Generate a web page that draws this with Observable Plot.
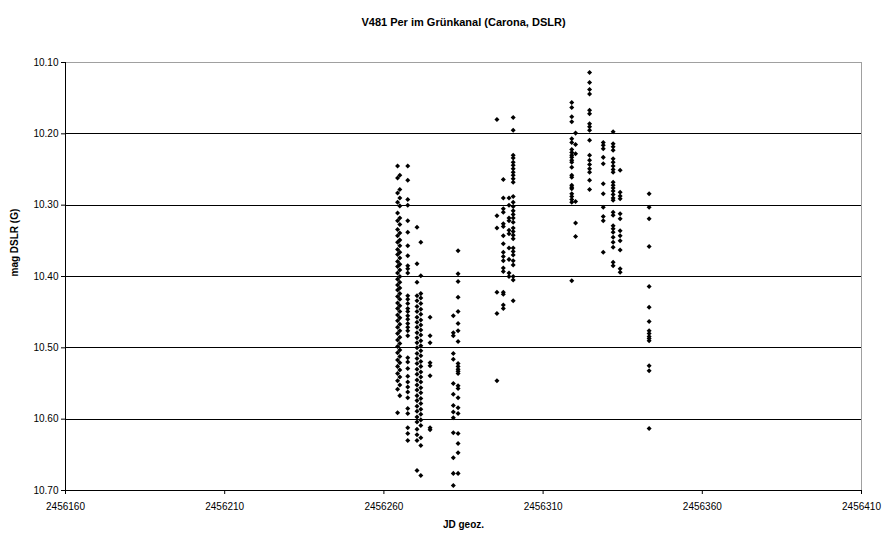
<!DOCTYPE html>
<html>
<head>
<meta charset="utf-8">
<script src="https://cdn.jsdelivr.net/npm/d3@7"></script>
<script src="https://cdn.jsdelivr.net/npm/@observablehq/plot@0.6"></script>
<style>
  html, body { margin: 0; padding: 0; background: #fff; }
</style>
</head>
<body>
<div id="chart"></div>
<script>
const titleText = "V481 Per im Grünkanal (Carona, DSLR)";
const xLabel = "JD geoz.";
const yLabel = "mag DSLR (G)";
const xTicks = [2456160, 2456210, 2456260, 2456310, 2456360, 2456410];
const yTicks = [10.10, 10.20, 10.30, 10.40, 10.50, 10.60, 10.70];

// Observation nights (JD geoz.) and the magnitudes measured in each
const nightJD = [
  2456264.3, 2456265.0, 2456267.5, 2456270.4, 2456271.6, 2456274.5,
  2456281.8, 2456283.3, 2456295.5, 2456297.5, 2456299.3,
  2456300.6, 2456319.0, 2456320.2, 2456324.6, 2456328.9,
  2456332.0, 2456334.2, 2456343.3
];
const magA1 = [10.245,10.262,10.283,10.296,10.311,10.322,10.334,10.343,10.352,10.362,10.369,10.379,10.386,10.395,10.404,10.412,10.419,10.428,10.437,10.445,10.454,10.462,10.471,10.480,10.489,10.498,10.507,10.517,10.526,10.536,10.546,10.558,10.591];
const magA2 = [10.258,10.278,10.290,10.301,10.318,10.327,10.339,10.349,10.357,10.366,10.374,10.383,10.391,10.400,10.408,10.416,10.424,10.432,10.441,10.449,10.458,10.467,10.476,10.485,10.494,10.503,10.512,10.521,10.531,10.541,10.552,10.567];
const magB = [10.245,10.265,10.292,10.300,10.322,10.338,10.357,10.371,10.385,10.389,10.395,10.427,10.432,10.438,10.445,10.449,10.455,10.460,10.466,10.471,10.476,10.483,10.514,10.520,10.529,10.540,10.548,10.555,10.562,10.570,10.585,10.592,10.612,10.620,10.630];
const magC1 = [10.331,10.382,10.408,10.427,10.434,10.442,10.449,10.457,10.464,10.471,10.479,10.486,10.493,10.500,10.508,10.515,10.522,10.530,10.537,10.545,10.552,10.559,10.567,10.574,10.582,10.589,10.597,10.604,10.614,10.622,10.630,10.672];
const magC2 = [10.352,10.399,10.424,10.430,10.438,10.446,10.453,10.461,10.468,10.475,10.482,10.490,10.497,10.504,10.511,10.519,10.526,10.534,10.541,10.548,10.556,10.563,10.571,10.578,10.586,10.593,10.601,10.609,10.626,10.637,10.679];
const magD = [10.457,10.483,10.493,10.521,10.525,10.539,10.612,10.615];
const magE1 = [10.455,10.479,10.483,10.508,10.516,10.550,10.565,10.581,10.590,10.598,10.619,10.654,10.676,10.693];
const magE2 = [10.364,10.396,10.407,10.429,10.449,10.466,10.476,10.491,10.522,10.526,10.530,10.533,10.536,10.553,10.557,10.570,10.584,10.592,10.620,10.634,10.647,10.676];
const magF = [10.180,10.315,10.332,10.422,10.452,10.546];
const magG1 = [10.264,10.290,10.305,10.310,10.326,10.330,10.343,10.354,10.366,10.372,10.378,10.388,10.393,10.422,10.425,10.440,10.445];
const magG2 = [10.290,10.300,10.318,10.322,10.335,10.340,10.360,10.376,10.395,10.400];
const magG3 = [10.177,10.195,10.230,10.234,10.240,10.244,10.249,10.254,10.258,10.263,10.268,10.288,10.296,10.302,10.308,10.313,10.318,10.324,10.332,10.337,10.342,10.347,10.360,10.365,10.370,10.378,10.384,10.400,10.405,10.434];
const magH1 = [10.156,10.163,10.176,10.183,10.207,10.212,10.222,10.226,10.230,10.233,10.237,10.240,10.247,10.258,10.261,10.272,10.275,10.277,10.284,10.288,10.292,10.296,10.406];
const magH2 = [10.199,10.215,10.228,10.295,10.325,10.344];
const magI = [10.114,10.128,10.138,10.144,10.167,10.172,10.186,10.190,10.195,10.209,10.230,10.237,10.243,10.249,10.254,10.265,10.278];
const magJ1 = [10.212,10.216,10.221,10.233,10.242,10.270,10.284,10.303,10.316,10.322,10.366];
const magJ2 = [10.197,10.214,10.218,10.223,10.235,10.240,10.245,10.250,10.254,10.268,10.272,10.276,10.280,10.285,10.290,10.293,10.310,10.314,10.329,10.333,10.338,10.345,10.352,10.359,10.380,10.385];
const magJ3 = [10.251,10.282,10.287,10.291,10.312,10.319,10.336,10.343,10.350,10.363,10.389,10.394];
const magK = [10.284,10.303,10.319,10.358,10.414,10.443,10.463,10.476,10.480,10.484,10.487,10.490,10.525,10.532,10.613];

const magSeries = [magA1, magA2, magB, magC1, magC2, magD, magE1, magE2, magF, magG1, magG2,
                   magG3, magH1, magH2, magI, magJ1, magJ2, magJ3, magK];

const data = nightJD.flatMap((jd, i) => magSeries[i].map(mag => ({jd, mag})));

const fmtY = d => d.toFixed(2);
const fmtX = d => String(d);

const chart = Plot.plot({
  width: 890,
  height: 535,
  marginLeft: 65,
  marginRight: 29,
  marginTop: 62,
  marginBottom: 45,
  style: {
    fontFamily: "'Liberation Sans', Arial, sans-serif",
    fontSize: "10px",
    background: "#fff",
    color: "#000"
  },
  x: {domain: [2456160, 2456410], label: null},
  y: {domain: [10.10, 10.70], reverse: true, label: null},
  marks: [
    Plot.ruleY(yTicks.slice(1, -1), {stroke: "#000", strokeWidth: 1, shapeRendering: "crispEdges"}),
    Plot.ruleY([10.10], {stroke: "#a0a0a0", strokeWidth: 1, shapeRendering: "crispEdges"}),
    Plot.ruleX([2456410], {stroke: "#a0a0a0", strokeWidth: 1, shapeRendering: "crispEdges"}),
    Plot.ruleX([2456160], {stroke: "#000", strokeWidth: 1, shapeRendering: "crispEdges"}),
    Plot.ruleY([10.70], {stroke: "#000", strokeWidth: 1, shapeRendering: "crispEdges"}),
    Plot.axisY({ticks: yTicks, tickFormat: fmtY, tickSize: 4, tickPadding: 3, label: null}),
    Plot.axisX({ticks: xTicks, tickFormat: fmtX, tickSize: 4, tickPadding: 8, label: null}),
    Plot.dot(data, {x: "jd", y: "mag", symbol: "square", rotate: 45, r: 2.0, fill: "#000", stroke: "none"}),
    Plot.text([titleText], {frameAnchor: "top", dy: -44, fontWeight: "bold", fontSize: 11}),
    Plot.text([yLabel], {frameAnchor: "left", dx: -51, rotate: -90, fontWeight: "bold", fontSize: 10}),
    Plot.text([xLabel], {frameAnchor: "bottom", dy: 37, fontWeight: "bold", fontSize: 10})
  ]
});
document.getElementById("chart").appendChild(chart);
</script>
</body>
</html>
